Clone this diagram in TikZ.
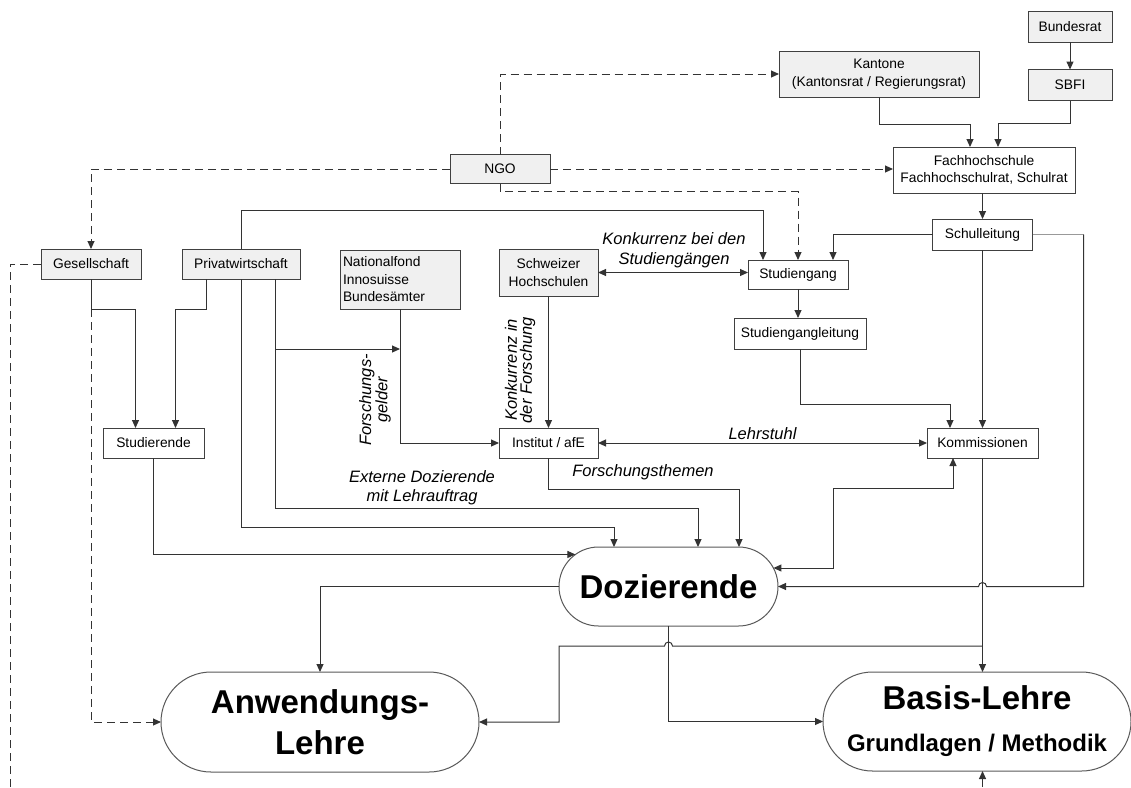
\documentclass[tikz,border=0pt]{standalone}
\usepackage{fontspec}
\setmainfont{Liberation Sans}
\usetikzlibrary{positioning,calc,arrows.meta,shapes.misc}

\tikzstyle{box} = [rectangle, draw=black!75, line width=0.9pt, fill=white, inner sep=0pt, outer sep=0pt, align=center, font=\fontsize{13.8}{17.5}\selectfont]
\tikzstyle{graybox} = [box, fill=black!6]
\tikzstyle{pill} = [rounded rectangle, draw=black!65, line width=1pt, fill=white, inner sep=0pt, outer sep=0pt, align=center, font=\bfseries\fontsize{33}{41}\selectfont]
\tikzstyle{lbl} = [align=center, font=\itshape\fontsize{16.5}{19.5}\selectfont]
\tikzstyle{rlbl} = [lbl, rotate=90, font=\itshape\fontsize{16.5}{15}\selectfont]
\tikzstyle{link} = [draw=black!80, line width=1pt]
\tikzstyle{glink} = [draw=black!40, line width=1pt]
\tikzstyle{dlink} = [link, dash pattern=on 8pt off 5pt]

\begin{document}
\begin{tikzpicture}[%
    x=1pt, y=-1pt,
    >={Triangle[length=8pt,width=7pt]}
  ]
      \useasboundingbox (0,0) rectangle (1131,787);

      %Behoerden / Schule
      \node[graybox, minimum width=84pt, minimum height=31pt] (bund) at (1070,26.5) {Bundesrat};
      \node[graybox, minimum width=84pt, minimum height=31pt] (sbfi) at (1070,85) {SBFI};
      \node[graybox, minimum width=200pt, minimum height=46pt] (kant) at (879,74) {Kantone\\(Kantonsrat / Regierungsrat)};
      \node[box, minimum width=182pt, minimum height=46pt] (fhs) at (984,170) {Fachhochschule\\Fachhochschulrat, Schulrat};
      \node[graybox, minimum width=100pt, minimum height=29pt] (ngo) at (500,169) {NGO};
      \node[box, minimum width=100pt, minimum height=31pt] (sl) at (982.5,234.5) {Schulleitung};
      \node[box, minimum width=100pt, minimum height=29pt] (sg) at (798,274.5) {Studiengang};
      \node[box, minimum width=132pt, minimum height=31pt] (sgl) at (800,333.5) {Studiengangleitung};

      %Umfeld
      \node[graybox, minimum width=100pt, minimum height=30pt] (ges) at (91,264) {Gesellschaft};
      \node[graybox, minimum width=118pt, minimum height=30pt] (priv) at (241,264) {Privatwirtschaft};
      \node[graybox, minimum width=120pt, minimum height=59pt, text width=114pt, align=left] (nat) at (400,279.5) {Nationalfond\\Innosuisse\\Bundesämter};
      \node[graybox, minimum width=99pt, minimum height=47pt] (sch) at (548.5,272.5) {Schweizer\\Hochschulen};
      \node[box, minimum width=101pt, minimum height=30pt] (stud) at (153.5,443) {Studierende};
      \node[box, minimum width=99pt, minimum height=30pt] (inst) at (548.5,443) {Institut / afE};
      \node[box, minimum width=111pt, minimum height=30pt] (komm) at (982.5,443) {Kommissionen};

      %Lehre
      \node[pill, minimum width=219pt, minimum height=79pt] (doz) at (668.5,586.5) {Dozierende};
      \node[pill, minimum width=318pt, minimum height=100pt] (anw) at (320,722) {Anwendungs-\\Lehre};
      \node[pill, minimum width=308pt, minimum height=99pt] (basis) at (977,721.5) {Basis-Lehre\\[1pt]{\fontsize{24}{28}\selectfont Grundlagen / Methodik}};

      \coordinate (edgeL) at (10,787);
      \coordinate (edgeB) at (982.5,787);
      \coordinate (kd) at (833,488);

      %Labels
      \node[lbl] (konkstud) at (674,250) {Konkurrenz bei den\\Studiengängen};
      \node[rlbl] (konkfo) at (520,370) {Konkurrenz in\\der Forschung};
      \node[rlbl] (geld) at (375,400) {Forschungs-\\gelder};
      \node[lbl] (themen) at (643,472) {Forschungsthemen};
      \node[lbl] (extern) at (422,487.5) {Externe Dozierende\\mit Lehrauftrag};

      %Aufsicht
      \draw[link,->] (bund) -- (sbfi);
      \draw[link,->] (kant.south) -- ++(0,27) -| ($(fhs.north)+(-14,0)$);
      \draw[link,->] (sbfi.south) -- ++(0,23) -| ($(fhs.north)+(14,0)$);
      \draw[link,->] (sl.north |- fhs.south) -- (sl.north);
      \draw[link,->] (sl.west) -| ($(sg.north)+(35,0)$);
      \draw[link,->] (sl) -- (komm);
      \draw[link,->] (sg.south) -- (sg.south |- sgl.north);
      \draw[link,->] (sgl.south) -- ++(0,55) -| ($(komm.north)+(-32.5,0)$);

      %NGO
      \draw[dlink,->] (ngo.north) |- (kant.west);
      \draw[dlink,->] (ngo.east) -- (ngo.east -| fhs.west);
      \draw[dlink,->] (ngo.west) -| (ges.north);
      \draw[dlink,->] (ngo.south) -- ++(0,8) -| (sg.north);

      %Gesellschaft
      \draw[dlink] (ges.west) -| (edgeL);
      \draw[link,->] (ges.south) -- ++(0,30) -| ($(stud.north)+(-18,0)$);
      \draw[dlink,->] ($(ges.south)+(0,30)$) |- (anw.west);

      %Privatwirtschaft
      \draw[link,->] ($(priv.south)+(-35,0)$) -- ++(0,30) -| ($(stud.north)+(22,0)$);
      \draw[link,->] (priv.north) -- ++(0,-39) -| ($(sg.north)+(-35,0)$);
      \draw[link,->] (priv.south) -- ++(0,248) -| ($(doz.north)+(-54.5,0)$);
      \draw[link,->] ($(priv.south)+(34,0)$) -- ++(0,229) -| ($(doz.north)+(29.5,0)$);
      \draw[link,->] ($(priv.south)+(34,70)$) -- ($(nat.south)+(0,40)$);

      %Forschung
      \draw[link,->] (nat.south) |- (inst.west);
      \draw[link,->] (sch) -- (inst);
      \draw[link,<->] (sch.east) -- (sch.east -| sg.west);
      \draw[link,<->] (inst) -- node[lbl,above] (stuhl) {Lehrstuhl} (komm);
      \draw[link,->] (inst.south) -- ++(0,31) -| ($(doz.north)+(70.5,0)$);

      %Dozierende
      \draw[link,->] (stud.south) |- (doz.161);
      \draw[link,<->] (doz.10) -| (kd) -| ($(komm.south)+(-29.5,0)$);
      \draw[glink] (sl.east) -- ++(51,0) coordinate (sr);
      \draw[link,->] (sr) |- ($(komm.south |- doz.east)+(4,0)$) arc (0:-180:4) -- (doz.east);
      \draw[link,->] (komm.south) -- (komm.south |- basis.north);
      \coordinate (kb) at ($(komm.south)+(0,188)$);
      \draw[link,->] (kb) -- ($(kb -| doz.south)+(4,0)$) arc (0:-180:4) -- (kb -| doz.west) |- (anw.east);
      \draw[link,->] (doz.south) |- (basis.west);
      \draw[link,->] (doz.west) -| (anw.north);
      \draw[link,->] (edgeB) -- (edgeB |- basis.south);
\end{tikzpicture}
\end{document}
